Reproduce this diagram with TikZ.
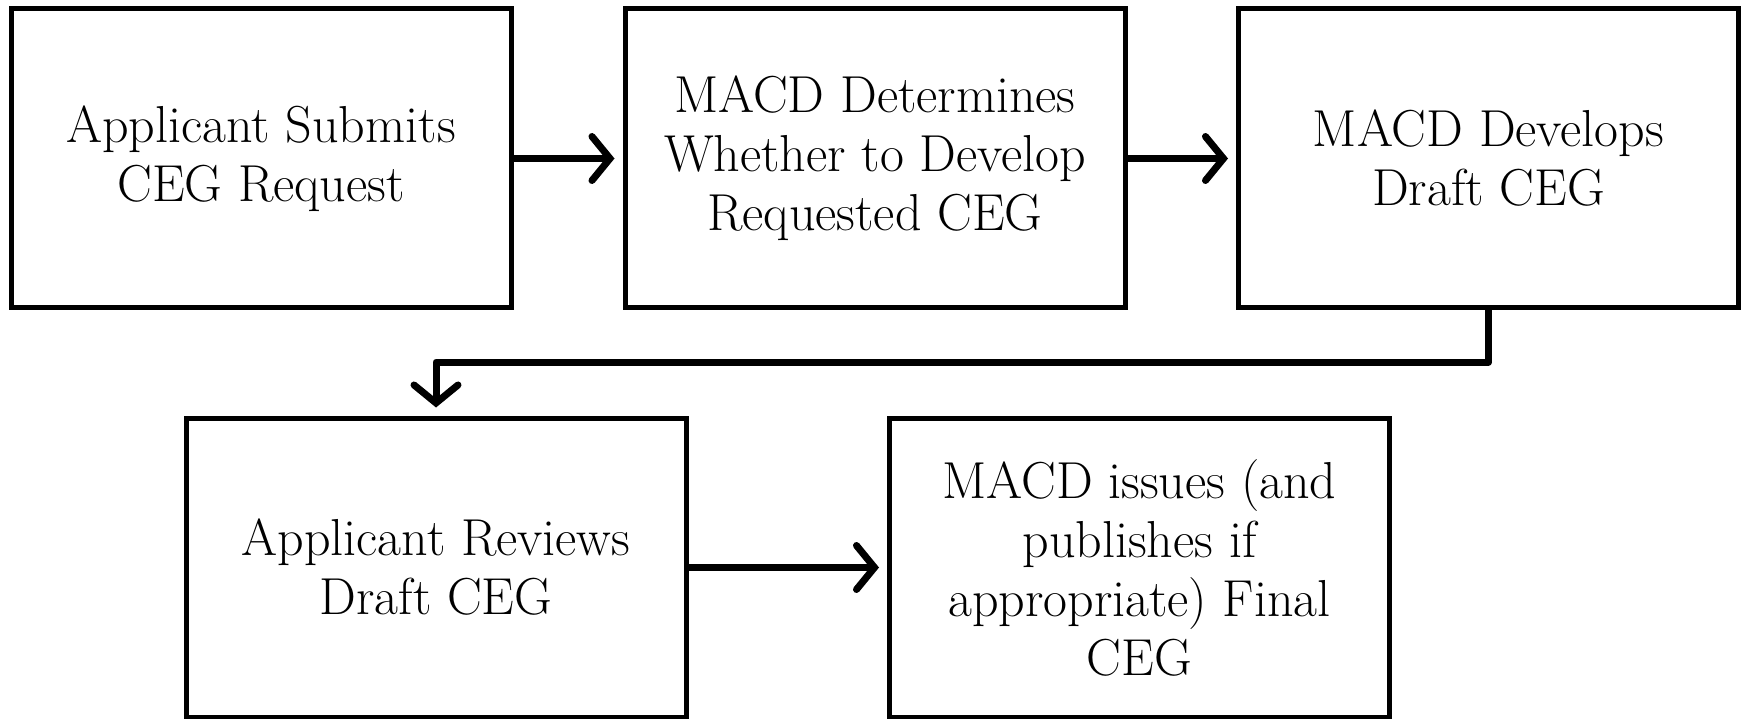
\documentclass[tikz,border=0pt]{standalone}
\usetikzlibrary{arrows.meta}

\begin{document}
\begin{tikzpicture}[
  x=1pt, y=-1pt,
  stage/.style={draw, line width=5pt, minimum width=500pt, minimum height=299pt,
    inner sep=0pt, align=center, font=\fontsize{52}{59}\selectfont},
  flow/.style={line width=7pt, line cap=round, line join=round, shorten >=8pt,
    -{Straight Barb[length=18pt, width=44pt, line cap=round]}}
  ]
  \useasboundingbox (0,0) rectangle (1743,719);
  % top row
  \node[stage] (submit) at (261,158.5) {Applicant Submits\\CEG Request};
  \node[stage] (decide) at (875,158.5) {MACD Determines\\Whether to Develop\\Requested CEG};
  \node[stage] (develop) at (1488.5,158.5) {MACD Develops\\Draft CEG};
  % bottom row
  \node[stage] (review) at (436,567.5) {Applicant Reviews\\Draft CEG};
  \node[stage] (issue) at (1139.5,567.5) {MACD issues (and\\publishes if\\appropriate) Final\\CEG};

  \draw[flow] (submit) -- (decide);
  \draw[flow] (decide) -- (develop);
  \draw[flow] (develop.south) |- (436,362) -- (review.north);
  \draw[flow] (review) -- (issue);
\end{tikzpicture}
\end{document}
